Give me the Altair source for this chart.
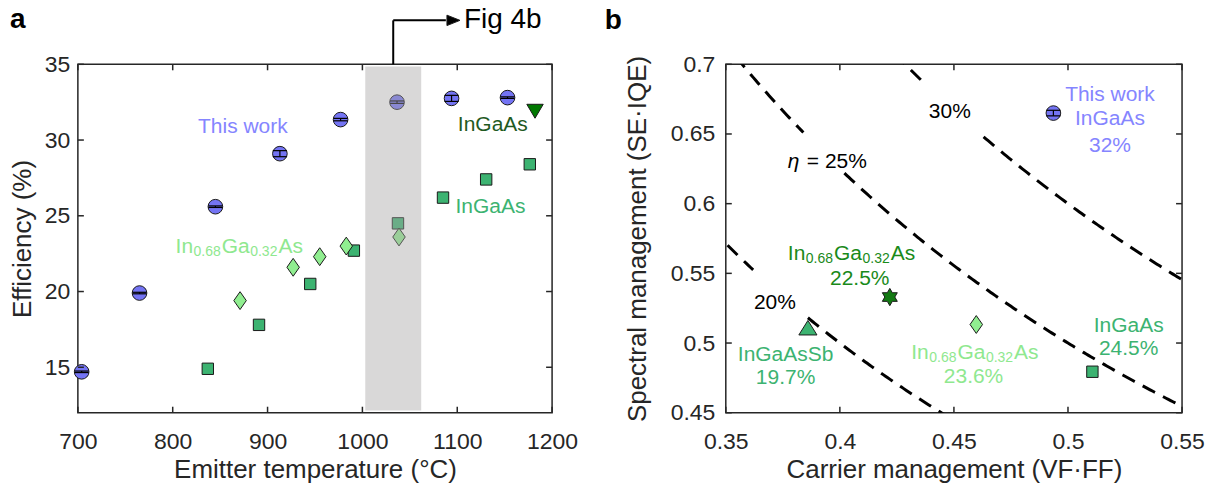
import altair as alt
import numpy as np
import pandas as pd

FONT = "Liberation Sans"
INK = "#262626"

# ---------------- panel a data ----------------
a_work_T = [704, 765, 845, 913, 977, 1036.5, 1094, 1153]
a_work_E = [14.7, 19.9, 25.6, 29.1, 31.35, 32.5, 32.75, 32.8]
a_work_err = [0.05, 0.05, 0.05, 0.2, 0.08, 0.08, 0.2, 0.05]
a_ingaas_T = [837, 891, 945, 991, 1037.5, 1085, 1130.5, 1176.5]
a_ingaas_E = [14.9, 17.8, 20.5, 22.7, 24.5, 26.2, 27.4, 28.4]
a_in68_T = [871, 927, 955, 983, 1038.6]
a_in68_E = [19.4, 21.6, 22.3, 23.0, 23.6]
a_dark_T = [1182]
a_dark_E = [31.9]
a_shade_T = [1003, 1062]
a_shade_E = [12.15, 34.85]
a_xticks = [700, 800, 900, 1000, 1100, 1200]
a_yticks = [15, 20, 25, 30, 35]
a_xdomain = [700, 1200]
a_ydomain = [12, 35]
a_fig_T = [1032.5, 1088, 1096, 1107]   # arrow stem, arrow end, head, text
a_fig_E = [35, 37.9]
a_letter_pos = (636.5, 37.9)

# ---------------- panel b data ----------------
b_work = (0.4936, 0.665)
b_work_err = 0.002
b_ingaas = (0.5107, 0.4794)
b_in68 = (0.4598, 0.5133)
b_in68dark = (0.4219, 0.533)
b_ingaassb = (0.386, 0.511)
b_levels = [0.20, 0.25, 0.30]
b_level_gaps = [(0.363, 0.3856), (0.385, 0.402), (0.439, 0.463)]
b_xticks = [0.35, 0.40, 0.45, 0.50, 0.55]
b_yticks = [0.45, 0.50, 0.55, 0.60, 0.65, 0.70]
b_xdomain = [0.35, 0.55]
b_ydomain = [0.45, 0.70]
b_letter_pos = (0.3007, 0.731)

# ---------------- colours ----------------
C_WORK = "#7474f4"
C_WORK_TXT = "#8585ff"
C_MID = "#3cb371"
C_LIGHT = "#90ee90"
C_LIGHT_TXT = "#8fe88f"
C_DARK = "#007800"
C_DARK_TXT_A = "#1f5a1f"
C_DARK_TXT_B = "#1a8a1a"
EDGE = "#1a1a1a"

# marker shapes (unit paths)
DIAMOND = "M0,-1L0.7,0L0,1L-0.7,0Z"
TRI_DOWN = "M-1,-0.85L1,-0.85L0,0.85Z"
TRI_UP = "M-1,0.8L1,0.8L0,-0.8Z"
TRI_RIGHT = "M-1,-0.8L1,0L-1,0.8Z"
HLINE = "M-1,0L1,0"
HEXAGRAM = ("M0,-1L0.289,-0.5L0.866,-0.5L0.577,0L0.866,0.5L0.289,0.5L0,1"
            "L-0.289,0.5L-0.866,0.5L-0.577,0L-0.866,-0.5L-0.289,-0.5Z")

AW, AH = 475, 349
BW, BH = 457, 349

# Arial / Liberation Sans advance widths (per 1000 em)
WID = {"I": 278, "n": 556, "G": 778, "a": 556, "A": 667, "s": 500, ".": 278}
for d in "0123456789":
    WID[d] = 556


def twidth(s, fs):
    return sum(WID.get(c, 556) for c in s) * fs / 1000.0


def XA(f):
    return alt.X(f, type="quantitative",
                 scale=alt.Scale(domain=a_xdomain, nice=False, zero=False),
                 axis=alt.Axis(values=a_xticks, format="d", labelFlush=False,
                               labelPadding=18, titlePadding=3,
                               title="Emitter temperature (°C)"))


def YA(f):
    return alt.Y(f, type="quantitative",
                 scale=alt.Scale(domain=a_ydomain, nice=False, zero=False),
                 axis=alt.Axis(values=a_yticks, format="d", labelPadding=8,
                               titlePadding=9, title="Efficiency (%)"))


def XB(f):
    return alt.X(f, type="quantitative",
                 scale=alt.Scale(domain=b_xdomain, nice=False, zero=False),
                 axis=alt.Axis(values=b_xticks, format=".2~f", labelFlush=False,
                               labelPadding=18, titlePadding=3,
                               title="Carrier management (VF·FF)"))


def YB(f):
    return alt.Y(f, type="quantitative",
                 scale=alt.Scale(domain=b_ydomain, nice=False, zero=False),
                 axis=alt.Axis(values=b_yticks, format=".2~f", labelPadding=11,
                               titlePadding=20,
                               title="Spectral management (SE·IQE)"))


def pts(X, Y, xs, ys, shape, size, fill):
    df = pd.DataFrame({"x": xs, "y": ys})
    return alt.Chart(df).mark_point(shape=shape, size=size, filled=True, fill=fill,
                                    stroke=EDGE, strokeWidth=1, opacity=1,
                                    fillOpacity=1).encode(x=X("x"), y=Y("y"))


def errbars(X, Y, xs, ys, errs, cap=196):
    lo = [y - e for y, e in zip(ys, errs)]
    hi = [y + e for y, e in zip(ys, errs)]
    df = pd.DataFrame({"x": xs, "lo": lo, "hi": hi})
    rule = alt.Chart(df).mark_rule(color="black", strokeWidth=1.2).encode(
        x=X("x"), y=Y("lo"), y2="hi")
    c1 = alt.Chart(df).mark_point(shape=HLINE, size=cap, filled=False, stroke="black",
                                  strokeWidth=1.2, opacity=1).encode(x=X("x"), y=Y("lo"))
    c2 = alt.Chart(df).mark_point(shape=HLINE, size=cap, filled=False, stroke="black",
                                  strokeWidth=1.2, opacity=1).encode(x=X("x"), y=Y("hi"))
    return [rule, c1, c2]


def label(X, Y, x, y, text, color, size=21, align="center", dx=0, dy=0,
          style="normal", weight="normal"):
    df = pd.DataFrame({"x": [x], "y": [y], "t": [text]})
    return alt.Chart(df).mark_text(font=FONT, fontSize=size, color=color, align=align,
                                   baseline="middle", dx=dx, dy=dy, fontStyle=style,
                                   fontWeight=weight).encode(x=X("x"), y=Y("y"), text="t:N")


def chem(X, Y, x_left, y, parts, color, fs=21, sfs=14):
    out = []
    off = 0.0
    for txt, sub in parts:
        size = sfs if sub else fs
        out.append(label(X, Y, x_left, y, txt, color, size=size, align="left",
                         dx=off, dy=5 if sub else 0))
        off += twidth(txt, size) + (1.0 if sub else 0.5)
    return out


IN68 = [("In", False), ("0.68", True), ("Ga", False), ("0.32", True), ("As", False)]


def inner_ticks(X, Y, xt, yt, W, H, L=6):
    dxf = pd.DataFrame({"x": xt})
    dyf = pd.DataFrame({"y": yt})
    m = dict(color=INK, strokeWidth=1.5)
    return [
        alt.Chart(dxf).mark_rule(**m).encode(x=X("x"), y=alt.value(H), y2=alt.value(H - L)),
        alt.Chart(dxf).mark_rule(**m).encode(x=X("x"), y=alt.value(0), y2=alt.value(L)),
        alt.Chart(dyf).mark_rule(**m).encode(y=Y("y"), x=alt.value(0), x2=alt.value(L)),
        alt.Chart(dyf).mark_rule(**m).encode(y=Y("y"), x=alt.value(W - L), x2=alt.value(W)),
    ]


# ================= panel a =================
a_layers = []
a_layers.append(pts(XA, YA, a_ingaas_T, a_ingaas_E, "square", 130, C_MID))
a_layers.append(pts(XA, YA, a_in68_T, a_in68_E, DIAMOND, 320, C_LIGHT))
a_layers.append(pts(XA, YA, a_work_T, a_work_E, "circle", 215, C_WORK))
a_layers += errbars(XA, YA, a_work_T, a_work_E, a_work_err)
a_layers.append(pts(XA, YA, a_dark_T, a_dark_E, TRI_DOWN, 270, C_DARK))

shade = pd.DataFrame({"x": [a_shade_T[0]], "x2": [a_shade_T[1]],
                      "y": [a_shade_E[0]], "y2": [a_shade_E[1]]})
a_layers.append(alt.Chart(shade).mark_rect(color="#a6a4a5", opacity=0.43).encode(
    x=XA("x"), x2="x2", y=YA("y"), y2="y2"))

a_layers.append(label(XA, YA, 874, 30.87, "This work", C_WORK_TXT))
a_layers.append(label(XA, YA, 1137.5, 31.0, "InGaAs", C_DARK_TXT_A))
a_layers.append(label(XA, YA, 1135, 25.6, "InGaAs", C_MID))
a_layers += chem(XA, YA, 803, 22.95, IN68, C_LIGHT_TXT)

# Fig 4b arrow
stem = pd.DataFrame({"x": [a_fig_T[0]], "y": [a_fig_E[0]], "y2": [a_fig_E[1]]})
a_layers.append(alt.Chart(stem).mark_rule(color="black", strokeWidth=2).encode(
    x=XA("x"), y=YA("y"), y2="y2"))
arm = pd.DataFrame({"x": [a_fig_T[0]], "x2": [a_fig_T[1]], "y": [a_fig_E[1]]})
a_layers.append(alt.Chart(arm).mark_rule(color="black", strokeWidth=2).encode(
    x=XA("x"), x2="x2", y=YA("y")))
a_layers.append(pts(XA, YA, [a_fig_T[2]], [a_fig_E[1]], TRI_RIGHT, 170, "black"))
a_layers.append(label(XA, YA, a_fig_T[3], a_fig_E[1], "Fig 4b", "black", size=28,
                      align="left"))
a_layers.append(label(XA, YA, a_letter_pos[0], a_letter_pos[1], "a", "black", size=28,
                      weight="bold"))

a_layers += inner_ticks(XA, YA, a_xticks, a_yticks, AW, AH)

panel_a = alt.layer(*a_layers).properties(width=AW, height=AH)

# ================= panel b =================
b_layers = []
rows = []
seg = 0
for lev, (g0, g1) in zip(b_levels, b_level_gaps):
    xs = np.arange(0.33, 0.5701, 0.001)
    prev_gap = None
    seg += 1
    for xv in xs:
        in_gap = g0 < xv < g1
        if in_gap:
            if prev_gap is False:
                seg += 1
            prev_gap = True
            continue
        prev_gap = False
        yv = lev / xv
        if 0.43 <= yv <= 0.72:
            rows.append({"x": xv, "y": yv, "seg": seg})
contours = pd.DataFrame(rows)
b_layers.append(alt.Chart(contours).mark_line(
    color="black", strokeWidth=3, strokeDash=[14, 9], clip=True).encode(
    x=XB("x"), y=YB("y"), detail="seg:N", order="x:Q"))

b_layers.append(pts(XB, YB, [b_ingaas[0]], [b_ingaas[1]], "square", 130, C_MID))
b_layers.append(pts(XB, YB, [b_in68[0]], [b_in68[1]], DIAMOND, 320, C_LIGHT))
b_layers.append(pts(XB, YB, [b_in68dark[0]], [b_in68dark[1]], HEXAGRAM, 300, "#137a13"))
b_layers.append(pts(XB, YB, [b_ingaassb[0]], [b_ingaassb[1]], TRI_UP, 330, C_MID))
b_layers.append(pts(XB, YB, [b_work[0]], [b_work[1]], "circle", 215, C_WORK))
b_layers += errbars(XB, YB, [b_work[0]], [b_work[1]], [b_work_err])

b_layers.append(label(XB, YB, 0.5184, 0.678, "This work", C_WORK_TXT))
b_layers.append(label(XB, YB, 0.5184, 0.6607, "InGaAs", C_WORK_TXT))
b_layers.append(label(XB, YB, 0.5184, 0.6416, "32%", C_WORK_TXT))

b_layers += chem(XB, YB, 0.3772, 0.5636, IN68, C_DARK_TXT_B)
b_layers.append(label(XB, YB, 0.4087, 0.5462, "22.5%", C_DARK_TXT_B))

b_layers.append(label(XB, YB, 0.3762, 0.4914, "InGaAsSb", C_MID))
b_layers.append(label(XB, YB, 0.3762, 0.4747, "19.7%", C_MID))

b_layers += chem(XB, YB, 0.4313, 0.4926, IN68, C_LIGHT_TXT)
b_layers.append(label(XB, YB, 0.4586, 0.4755, "23.6%", C_LIGHT_TXT))

b_layers.append(label(XB, YB, 0.5266, 0.5121, "InGaAs", C_MID))
b_layers.append(label(XB, YB, 0.5266, 0.4954, "24.5%", C_MID))

b_layers.append(label(XB, YB, 0.4482, 0.6661, "30%", "black"))
b_layers.append(label(XB, YB, 0.3772, 0.6296, "η", "black", align="left", style="italic"))
b_layers.append(label(XB, YB, 0.3772, 0.6296, "= 25%", "black", align="left", dx=19))
b_layers.append(label(XB, YB, 0.3715, 0.529, "20%", "black"))
b_layers.append(label(XB, YB, b_letter_pos[0], b_letter_pos[1], "b", "black", size=28,
                      weight="bold"))

b_layers += inner_ticks(XB, YB, b_xticks, b_yticks, BW, BH)

panel_b = alt.layer(*b_layers).properties(width=BW, height=BH)

chart = alt.hconcat(panel_a, panel_b, spacing=25).properties(
    padding={"left": 8, "top": 5, "right": 5, "bottom": 2}
).configure_axis(
    labelFont=FONT, titleFont=FONT, labelFontSize=23, titleFontSize=26,
    labelColor=INK, titleColor=INK, ticks=False, domain=False, grid=False,
    titleFontWeight="normal"
).configure_view(stroke=INK, strokeWidth=1.5)

chart.save("out.html", embed_options={"renderer": "svg", "actions": False})
